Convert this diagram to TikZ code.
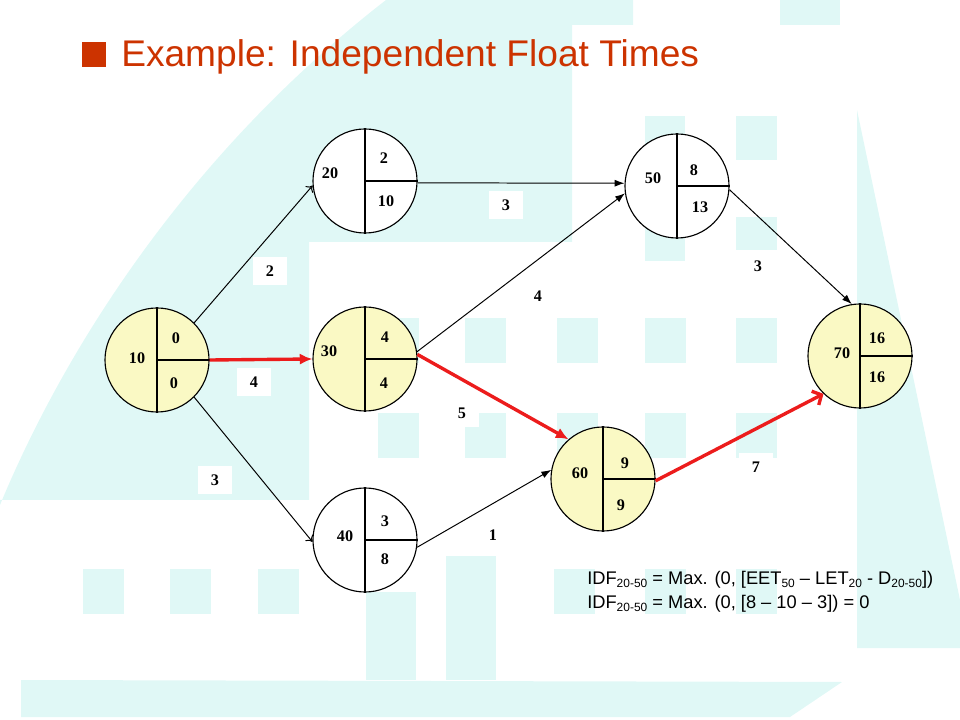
\documentclass[tikz,border=0pt]{standalone}
\usepackage{fontspec}
\setmainfont{Liberation Serif}
\setsansfont{Liberation Sans}
\usetikzlibrary{arrows.meta}
\definecolor{bgcyan}{RGB}{224,248,246}
\definecolor{evfill}{RGB}{250,249,196}
\definecolor{critred}{RGB}{236,28,28}
\definecolor{titlered}{RGB}{204,51,0}
\newcommand{\subidx}[1]{\raisebox{-0.4ex}{\fontsize{8.5}{9}\selectfont #1}}
\tikzset{
  event/.style={circle,draw,line width=0.8pt,minimum size=2.6cm,inner sep=0pt},
  num/.style={font=\fontsize{11.5}{13}\selectfont\bfseries,inner sep=1pt},
  dur/.style={num,fill=white,minimum width=0.85cm,minimum height=0.7cm},
  act/.style={line width=0.7pt,-{Latex[length=7pt,width=5pt]}},
  actopen/.style={line width=0.7pt,-{To[length=4pt,width=7pt]}},
  crit/.style={critred,line width=2.4pt,-{Latex[length=9pt,width=8pt]}},
  critopen/.style={critred,line width=2.4pt,-{Straight Barb[length=5pt,width=11pt]}},
  idf/.style={anchor=base west,inner sep=0pt,font=\sffamily\fontsize{13}{15}\selectfont}
}

\begin{document}
\begin{tikzpicture}[x=0.025cm,y=-0.025cm]
  \useasboundingbox (0,0) rectangle (960,720);
  % background
  \fill[bgcyan] (0,505) .. controls (60,360) and (180,160) .. (386,0) -- (633,0)
    -- (633,25) -- (572,25) -- (572,242) -- (309,242) -- (309,500) -- (0,500) -- cycle;
  \fill[bgcyan] (780,0) rectangle (840,25);
  \fill[bgcyan] (857,110) -- (960,600) -- (960,648) -- (857,648) -- cycle;
  \fill[bgcyan] (21,680) -- (842,682) -- (790,717) -- (21,717) -- cycle;
  \fill[bgcyan] (366,592) rectangle (416,680);
  \fill[bgcyan] (446,556) rectangle (496,680);
  \fill[bgcyan] (645,116) rectangle (685,261);
  \fill[bgcyan] (736,116) rectangle (777,160);
  \fill[bgcyan] (736,217) rectangle (777,250);
  \foreach \x in {378,465,557,645,736} {
    \fill[bgcyan] (\x,318) rectangle ++(41,45);
    \fill[bgcyan] (\x,413) rectangle ++(41,45);
  }
  \foreach \x in {83,170,258,554,645,736}
    \fill[bgcyan] (\x,569) rectangle ++(41,45);

  % title
  \node[fill=titlered,minimum width=0.6cm,minimum height=0.62cm,inner sep=0pt] (bullet) at (94,54.5) {};
  \node[anchor=base west,inner sep=0pt,text=titlered,font=\sffamily\fontsize{26.4}{30}\selectfont]
    (title) at (121,67) {Example: Independent Float Times};

  % events
  \node[event,fill=evfill] (e10) at (157,360) {};
  \node[event,fill=white]  (e20) at (365,181) {};
  \node[event,fill=evfill] (e30) at (365,359) {};
  \node[event,fill=white]  (e40) at (365,540) {};
  \node[event,fill=white]  (e50) at (677,186) {};
  \node[event,fill=evfill] (e60) at (603,479) {};
  \node[event,fill=evfill] (e70) at (860,356) {};
  \foreach \e in {e10,e20,e30,e40,e50,e60,e70}
    \draw[line width=0.8pt] (\e.north) -- (\e.south) (\e.center) -- (\e.east);

  \node[num] (e10id) at (137,358) {10};
  \node[num] (e10eet) at (176,338) {0};
  \node[num] (e10let) at (174,383) {0};
  \node[num] (e20id) at (330,173) {20};
  \node[num] (e20eet) at (384,158) {2};
  \node[num] (e20let) at (386,201) {10};
  \node[num] (e30id) at (329,351) {30};
  \node[num] (e30eet) at (385,337) {4};
  \node[num] (e30let) at (384,383) {4};
  \node[num] (e40id) at (345,536) {40};
  \node[num] (e40eet) at (385,521) {3};
  \node[num] (e40let) at (385,559) {8};
  \node[num] (e50id) at (653,178) {50};
  \node[num] (e50eet) at (694,170) {8};
  \node[num] (e50let) at (700,207) {13};
  \node[num] (e60id) at (580,473) {60};
  \node[num] (e60eet) at (625,463) {9};
  \node[num] (e60let) at (621,505) {9};
  \node[num] (e70id) at (842,353) {70};
  \node[num] (e70eet) at (877,338) {16};
  \node[num] (e70let) at (877,377) {16};

  % activities
  \draw[actopen] (e10.45) -- (e20.185);
  \draw[crit] (e10.east) -- (e30.west);
  \draw[actopen] (e10.-45) -- (e40.182);
  \draw[act] (e20.-2) -- (e50.177);
  \draw[act] (e30.8) -- (e50.188);
  \draw[crit] (e30.5) -- (e60.131);
  \draw[act] (e40.-8) -- (e60.170);
  \draw[act] (e50.-4) -- (e70.99);
  \draw[critopen] (e60.-2) -- (e70.226);

  \node[dur] (d12) at (270,271) {2};
  \node[dur] (d13) at (254,382) {4};
  \node[dur] (d14) at (215,480) {3};
  \node[dur] (d25) at (506,205) {3};
  \node[dur] (d35) at (538,296) {4};
  \node[dur] (d36) at (462,413) {5};
  \node[dur] (d46) at (493,535) {1};
  \node[dur] (d57) at (758,266) {3};
  \node[dur] (d67) at (756,467) {7};

  % formula
  \node[idf] (idf1) at (587,584)
    {IDF\subidx{20-50} = Max. (0, [EET\subidx{50} – LET\subidx{20} - D\subidx{20-50}])};
  \node[idf] (idf2) at (587,608)
    {IDF\subidx{20-50} = Max. (0, [8 – 10 – 3]) = 0};
\end{tikzpicture}
\end{document}
